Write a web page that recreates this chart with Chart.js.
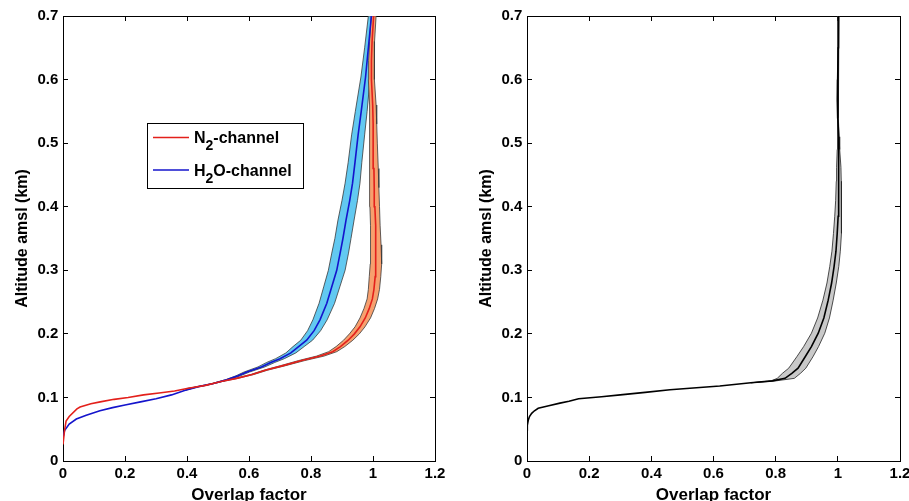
<!DOCTYPE html>
<html>
<head>
<meta charset="utf-8">
<script src="https://cdn.jsdelivr.net/npm/chart.js@4/dist/chart.umd.min.js"></script>
<style>
  html, body { margin: 0; padding: 0; background: #fff; }
  #wrap { position: relative; width: 909px; height: 501px; overflow: hidden; }
  .panel { position: absolute; top: 0; width: 450px; height: 501px; }
</style>
</head>
<body>
<div id="wrap">
  <div class="panel" style="left:0"><canvas id="left" width="450" height="501"></canvas></div>
  <div class="panel" style="left:459px"><canvas id="right" width="450" height="501"></canvas></div>
</div>
<script>
// --- DADOS ---
const xTicks = [0, 0.2, 0.4, 0.6, 0.8, 1.0, 1.2];
const xTickLabels = ['0', '0.2', '0.4', '0.6', '0.8', '1', '1.2'];
const yTicks = [0, 0.1, 0.2, 0.3, 0.4, 0.5, 0.6, 0.7];
const yTickLabels = ['0', '0.1', '0.2', '0.3', '0.4', '0.5', '0.6', '0.7'];

// N2-channel (painel esquerdo, vermelho)
const n2Alt  = [0.026, 0.048, 0.063, 0.070, 0.082, 0.085, 0.090, 0.093, 0.097, 0.100, 0.104, 0.107, 0.110, 0.114, 0.119, 0.125, 0.130, 0.136, 0.143, 0.150, 0.158, 0.165, 0.172, 0.180, 0.190, 0.200, 0.211, 0.225, 0.240, 0.255, 0.270, 0.290, 0.310, 0.340, 0.370, 0.400, 0.430, 0.460, 0.500, 0.530, 0.560, 0.600, 0.630, 0.660, 0.700];
const n2Mean = [0.000, 0.005, 0.010, 0.020, 0.045, 0.055, 0.090, 0.120, 0.165, 0.210, 0.260, 0.310, 0.360, 0.400, 0.460, 0.510, 0.560, 0.610, 0.655, 0.710, 0.770, 0.830, 0.870, 0.895, 0.920, 0.940, 0.958, 0.975, 0.988, 0.998, 1.003, 1.007, 1.009, 1.009, 1.008, 1.006, 1.004, 1.003, 1.001, 1.000, 0.999, 0.995, 0.995, 0.997, 1.002];
const n2Lo   = [0.000, 0.005, 0.010, 0.020, 0.045, 0.055, 0.090, 0.120, 0.165, 0.210, 0.260, 0.310, 0.360, 0.400, 0.458, 0.507, 0.556, 0.605, 0.649, 0.702, 0.760, 0.818, 0.857, 0.881, 0.905, 0.924, 0.942, 0.958, 0.971, 0.981, 0.985, 0.988, 0.991, 0.993, 0.991, 0.990, 0.989, 0.990, 0.988, 0.990, 0.988, 0.985, 0.986, 0.989, 0.994];
const n2Hi   = [0.000, 0.005, 0.010, 0.020, 0.045, 0.055, 0.090, 0.120, 0.165, 0.210, 0.260, 0.310, 0.360, 0.400, 0.462, 0.513, 0.564, 0.615, 0.661, 0.718, 0.780, 0.842, 0.883, 0.909, 0.935, 0.956, 0.974, 0.992, 1.005, 1.015, 1.021, 1.025, 1.028, 1.026, 1.023, 1.021, 1.019, 1.017, 1.014, 1.012, 1.010, 1.005, 1.004, 1.005, 1.010];

// H2O-channel (painel esquerdo, azul)
const h2oAlt  = [0.037, 0.048, 0.058, 0.066, 0.072, 0.079, 0.084, 0.088, 0.093, 0.098, 0.104, 0.111, 0.117, 0.122, 0.128, 0.134, 0.140, 0.148, 0.155, 0.161, 0.170, 0.180, 0.190, 0.205, 0.222, 0.248, 0.274, 0.300, 0.327, 0.350, 0.379, 0.410, 0.437, 0.470, 0.513, 0.550, 0.604, 0.650, 0.700];
const h2oMean = [0.000, 0.005, 0.020, 0.043, 0.075, 0.119, 0.160, 0.200, 0.250, 0.300, 0.350, 0.392, 0.437, 0.485, 0.530, 0.565, 0.593, 0.640, 0.670, 0.700, 0.735, 0.760, 0.786, 0.810, 0.829, 0.851, 0.867, 0.883, 0.894, 0.903, 0.913, 0.925, 0.934, 0.942, 0.952, 0.962, 0.976, 0.985, 0.995];
const h2oLo   = [0.000, 0.005, 0.020, 0.043, 0.075, 0.119, 0.160, 0.200, 0.250, 0.300, 0.350, 0.392, 0.435, 0.482, 0.525, 0.558, 0.584, 0.629, 0.657, 0.686, 0.719, 0.742, 0.767, 0.789, 0.806, 0.826, 0.841, 0.856, 0.867, 0.877, 0.887, 0.900, 0.910, 0.920, 0.931, 0.943, 0.961, 0.973, 0.985];
const h2oHi   = [0.000, 0.005, 0.020, 0.043, 0.075, 0.119, 0.160, 0.200, 0.250, 0.300, 0.350, 0.392, 0.439, 0.488, 0.535, 0.572, 0.602, 0.651, 0.683, 0.714, 0.751, 0.778, 0.805, 0.831, 0.852, 0.876, 0.893, 0.910, 0.921, 0.929, 0.939, 0.950, 0.958, 0.964, 0.973, 0.981, 0.991, 0.997, 1.005];

// painel direito (preto / cinza)
const totAlt  = [0.049, 0.056, 0.064, 0.070, 0.075, 0.079, 0.083, 0.087, 0.091, 0.094, 0.098, 0.101, 0.104, 0.108, 0.112, 0.118, 0.123, 0.126, 0.130, 0.138, 0.146, 0.164, 0.180, 0.201, 0.225, 0.253, 0.280, 0.306, 0.330, 0.358, 0.385, 0.410, 0.440, 0.462, 0.490, 0.510, 0.540, 0.568, 0.600, 0.650, 0.700];
const totMean = [0.000, 0.001, 0.004, 0.008, 0.015, 0.024, 0.036, 0.070, 0.106, 0.135, 0.166, 0.240, 0.300, 0.380, 0.460, 0.620, 0.720, 0.790, 0.830, 0.852, 0.872, 0.895, 0.915, 0.937, 0.955, 0.969, 0.980, 0.988, 0.994, 0.998, 1.001, 1.003, 1.003, 1.003, 1.002, 1.002, 1.000, 0.999, 1.000, 1.001, 1.002];
const totLo   = [0.000, 0.001, 0.004, 0.008, 0.015, 0.024, 0.036, 0.070, 0.106, 0.135, 0.166, 0.240, 0.300, 0.380, 0.460, 0.620, 0.720, 0.785, 0.805, 0.822, 0.842, 0.868, 0.890, 0.915, 0.935, 0.952, 0.965, 0.974, 0.981, 0.986, 0.990, 0.993, 0.995, 0.996, 0.998, 1.000, 0.998, 0.997, 0.998, 0.999, 1.000];
const totHi   = [0.000, 0.001, 0.004, 0.008, 0.015, 0.024, 0.036, 0.070, 0.106, 0.135, 0.166, 0.240, 0.300, 0.380, 0.460, 0.620, 0.720, 0.800, 0.860, 0.880, 0.897, 0.920, 0.938, 0.958, 0.973, 0.985, 0.995, 1.003, 1.008, 1.011, 1.012, 1.012, 1.011, 1.010, 1.006, 1.004, 1.002, 1.001, 1.002, 1.003, 1.004];

const legendText = [['N', '2', '-channel'], ['H', '2', 'O-channel']];

// --- ESTILO ---
const FONTE = "'Liberation Sans', Arial, Helvetica, sans-serif";
const COR_N2 = '#e3201b';
const COR_H2O = '#1414cc';

function pontos(alt, xs) {
  return alt.map((a, i) => ({ x: xs[i], y: a }));
}

// faixa fechada: borda esquerda subindo, borda direita descendo
function faixa(alt, lo, hi) {
  let primeiro = alt.findIndex((a, i) => hi[i] - lo[i] > 0);
  primeiro = Math.max(primeiro - 1, 0);
  const sobe = [], desce = [];
  for (let i = primeiro; i < alt.length; i++) {
    sobe.push({ x: lo[i], y: alt[i] });
    desce.unshift({ x: hi[i], y: alt[i] });
  }
  return sobe.concat(desce);
}

function escalas(yLargura, padTituloY) {
  const tickFont = { family: FONTE, size: 15, weight: 'bold' };
  const grade = { drawOnChartArea: false, tickLength: -5, color: '#000', lineWidth: 1 };
  const borda = { display: true, color: '#000', width: 1 };
  const semPad = s => { s.paddingLeft = 0; s.paddingRight = 0; s.paddingTop = 0; s.paddingBottom = 0; };
  const tx = s => { s.ticks = xTicks.map(v => ({ value: v })); };
  const ty = s => { s.ticks = yTicks.map(v => ({ value: v })); };
  return {
    x: {
      type: 'linear', position: 'bottom', min: 0, max: 1.2,
      afterBuildTicks: tx,
      afterFit: s => { s.height = 40; semPad(s); },
      ticks: { callback: (v, i) => xTickLabels[i], color: '#000', font: tickFont, padding: 8.5, maxRotation: 0, autoSkip: false },
      grid: grade, border: borda,
      title: { display: true, text: 'Overlap factor', color: '#000', font: { family: FONTE, size: 17, weight: 'bold' }, padding: { top: 0, bottom: -4.5 } }
    },
    xTop: {
      type: 'linear', position: 'top', min: 0, max: 1.2,
      afterBuildTicks: tx,
      afterFit: s => { s.height = 0; semPad(s); },
      ticks: { display: false },
      grid: grade, border: borda
    },
    y: {
      type: 'linear', position: 'left', min: 0, max: 0.7,
      afterBuildTicks: ty,
      afterFit: s => { s.width = yLargura; semPad(s); },
      ticks: { callback: (v, i) => yTickLabels[i], color: '#000', font: tickFont, padding: 9.7, autoSkip: false },
      grid: grade, border: borda,
      title: { display: true, text: 'Altitude amsl (km)', color: '#000', font: { family: FONTE, size: 16, weight: 'bold' }, padding: { top: padTituloY, bottom: 0 } }
    },
    yRight: {
      type: 'linear', position: 'right', min: 0, max: 0.7,
      afterBuildTicks: ty,
      afterFit: s => { s.width = 0; semPad(s); },
      ticks: { display: false },
      grid: grade, border: borda
    }
  };
}

// legenda em caixa, com subscrito
const legendaCaixa = {
  id: 'legendaCaixa',
  afterDatasetsDraw(chart, args, opts) {
    if (!opts.itens) return;
    const ctx = chart.ctx;
    ctx.save();
    ctx.fillStyle = '#fff';
    ctx.fillRect(147, 123, 156, 65);
    ctx.strokeStyle = '#000';
    ctx.lineWidth = 1;
    ctx.strokeRect(147.5, 123.5, 156, 65);
    opts.itens.forEach((it, k) => {
      const yLinha = 137.5 + k * 32.5;
      ctx.strokeStyle = it.cor;
      ctx.lineWidth = 1.6;
      ctx.beginPath();
      ctx.moveTo(153, yLinha);
      ctx.lineTo(189, yLinha);
      ctx.stroke();
      const base = yLinha + 5.5;
      let x = 194;
      ctx.fillStyle = '#000';
      ctx.textBaseline = 'alphabetic';
      ctx.font = "bold 16px " + FONTE;
      ctx.fillText(it.partes[0], x, base);
      x += ctx.measureText(it.partes[0]).width;
      ctx.font = "bold 14px " + FONTE;
      ctx.fillText(it.partes[1], x, base + 7);
      x += ctx.measureText(it.partes[1]).width;
      ctx.font = "bold 16px " + FONTE;
      ctx.fillText(it.partes[2], x, base);
    });
    ctx.restore();
  }
};

function opcoes(yLargura, padTituloY, padDireita, itens) {
  return {
    responsive: false,
    animation: false,
    devicePixelRatio: 1,
    layout: { padding: { left: 0, right: padDireita, top: 16, bottom: 0 } },
    elements: { point: { radius: 0, hoverRadius: 0 } },
    scales: escalas(yLargura, padTituloY),
    plugins: {
      legend: { display: false },
      tooltip: { enabled: false },
      legendaCaixa: { itens: itens }
    }
  };
}

// --- PAINEL ESQUERDO ---
new Chart(document.getElementById('left'), {
  type: 'scatter',
  data: {
    datasets: [
      { label: 'N2-channel', data: pontos(n2Alt, n2Mean), showLine: true, borderColor: COR_N2, borderWidth: 1.6, fill: false },
      { label: 'H2O-channel', data: pontos(h2oAlt, h2oMean), showLine: true, borderColor: COR_H2O, borderWidth: 1.6, fill: false },
      { label: 'N2 faixa', data: faixa(n2Alt, n2Lo, n2Hi), showLine: true, borderColor: '#3a3a3a', borderWidth: 0.8, backgroundColor: '#f7a06e', fill: 'shape' },
      { label: 'H2O faixa', data: faixa(h2oAlt, h2oLo, h2oHi), showLine: true, borderColor: '#3a3a3a', borderWidth: 0.8, backgroundColor: '#62c9f1', fill: 'shape' }
    ]
  },
  options: opcoes(63, 13, 15, [
    { cor: COR_N2, partes: legendText[0] },
    { cor: COR_H2O, partes: legendText[1] }
  ]),
  plugins: [legendaCaixa]
});

// --- PAINEL DIREITO ---
new Chart(document.getElementById('right'), {
  type: 'scatter',
  data: {
    datasets: [
      { label: 'media', data: pontos(totAlt, totMean), showLine: true, borderColor: '#000', borderWidth: 1.6, fill: false },
      { label: 'faixa', data: faixa(totAlt, totLo, totHi), showLine: true, borderColor: '#222', borderWidth: 0.8, backgroundColor: '#c9c9c9', fill: 'shape' }
    ]
  },
  options: opcoes(68, 18, 9, null),
  plugins: [legendaCaixa]
});
</script>
</body>
</html>
